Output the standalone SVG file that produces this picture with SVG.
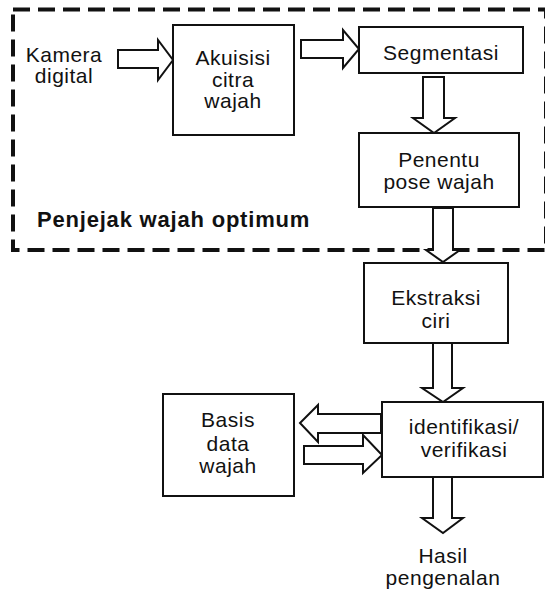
<svg xmlns="http://www.w3.org/2000/svg" width="545" height="592" viewBox="0 0 545 592">
<style>
.box{fill:#fff;stroke:#111;stroke-width:2}
.arr{fill:#fff;stroke:#111;stroke-width:2;stroke-linejoin:miter}
.frame{fill:none;stroke:#111;stroke-width:4;stroke-dasharray:17 8}
text{font-family:"Liberation Sans",Arial,sans-serif;font-size:21px;fill:#111;text-anchor:middle;letter-spacing:0.5px}
.title{font-weight:bold;font-size:22px;text-anchor:start;letter-spacing:0.8px}
</style>
<rect id="frame" class="frame" x="13" y="9.5" width="533" height="240.5"/>
<g id="connectors">
<polygon class="arr" points="118,50 158,50 158,40 173,60 158,80 158,68 118,68"/>
<polygon class="arr" points="301,40 343,40 343,30 359,49 343,68 343,58 301,58"/>
<polygon class="arr" points="423,77 444,77 444,118 455,118 434,133 413,118 423,118"/>
<polygon class="arr" points="433,208 453,208 453,250 460,250 443,262 426,250 433,250"/>
<polygon class="arr" points="433,343 452,343 452,388 463,388 443,402 422,388 433,388"/>
<polygon class="arr" points="433,477 452,477 452,518 463,518 443,533 422,518 433,518"/>
<polygon class="arr" points="381,414 318,414 318,405 300,423 318,442 318,433 381,433"/>
<polygon class="arr" points="304,446 363,446 363,435 382,455 363,473 363,464 304,464"/>
</g>
<g id="kamera">
<text x="64" y="62">Kamera</text>
<text x="64" y="83">digital</text>
</g>
<g id="akuisisi">
<rect class="box" x="173" y="25" width="121" height="110"/>
<text x="233" y="65">Akuisisi</text>
<text x="233" y="87">citra</text>
<text x="233" y="108">wajah</text>
</g>
<g id="segmentasi">
<rect class="box" x="359" y="27" width="164" height="46"/>
<text x="441" y="60">Segmentasi</text>
</g>
<g id="penentu">
<rect class="box" x="359" y="133" width="160" height="74"/>
<text x="439" y="167">Penentu</text>
<text x="439" y="189">pose wajah</text>
</g>
<g id="penjejak">
<text class="title" x="37" y="227">Penjejak wajah optimum</text>
</g>
<g id="ekstraksi">
<rect class="box" x="364" y="263" width="144" height="80"/>
<text x="436" y="305">Ekstraksi</text>
<text x="436" y="328">ciri</text>
</g>
<g id="identifikasi">
<rect class="box" x="382" y="402" width="161" height="75"/>
<text x="464" y="434">identifikasi/</text>
<text x="464" y="457">verifikasi</text>
</g>
<g id="basis">
<rect class="box" x="163" y="394" width="131" height="102"/>
<text x="228" y="427">Basis</text>
<text x="228" y="451">data</text>
<text x="228" y="473">wajah</text>
</g>
<g id="hasil">
<text x="443" y="563">Hasil</text>
<text x="443" y="585">pengenalan</text>
</g>
</svg>
